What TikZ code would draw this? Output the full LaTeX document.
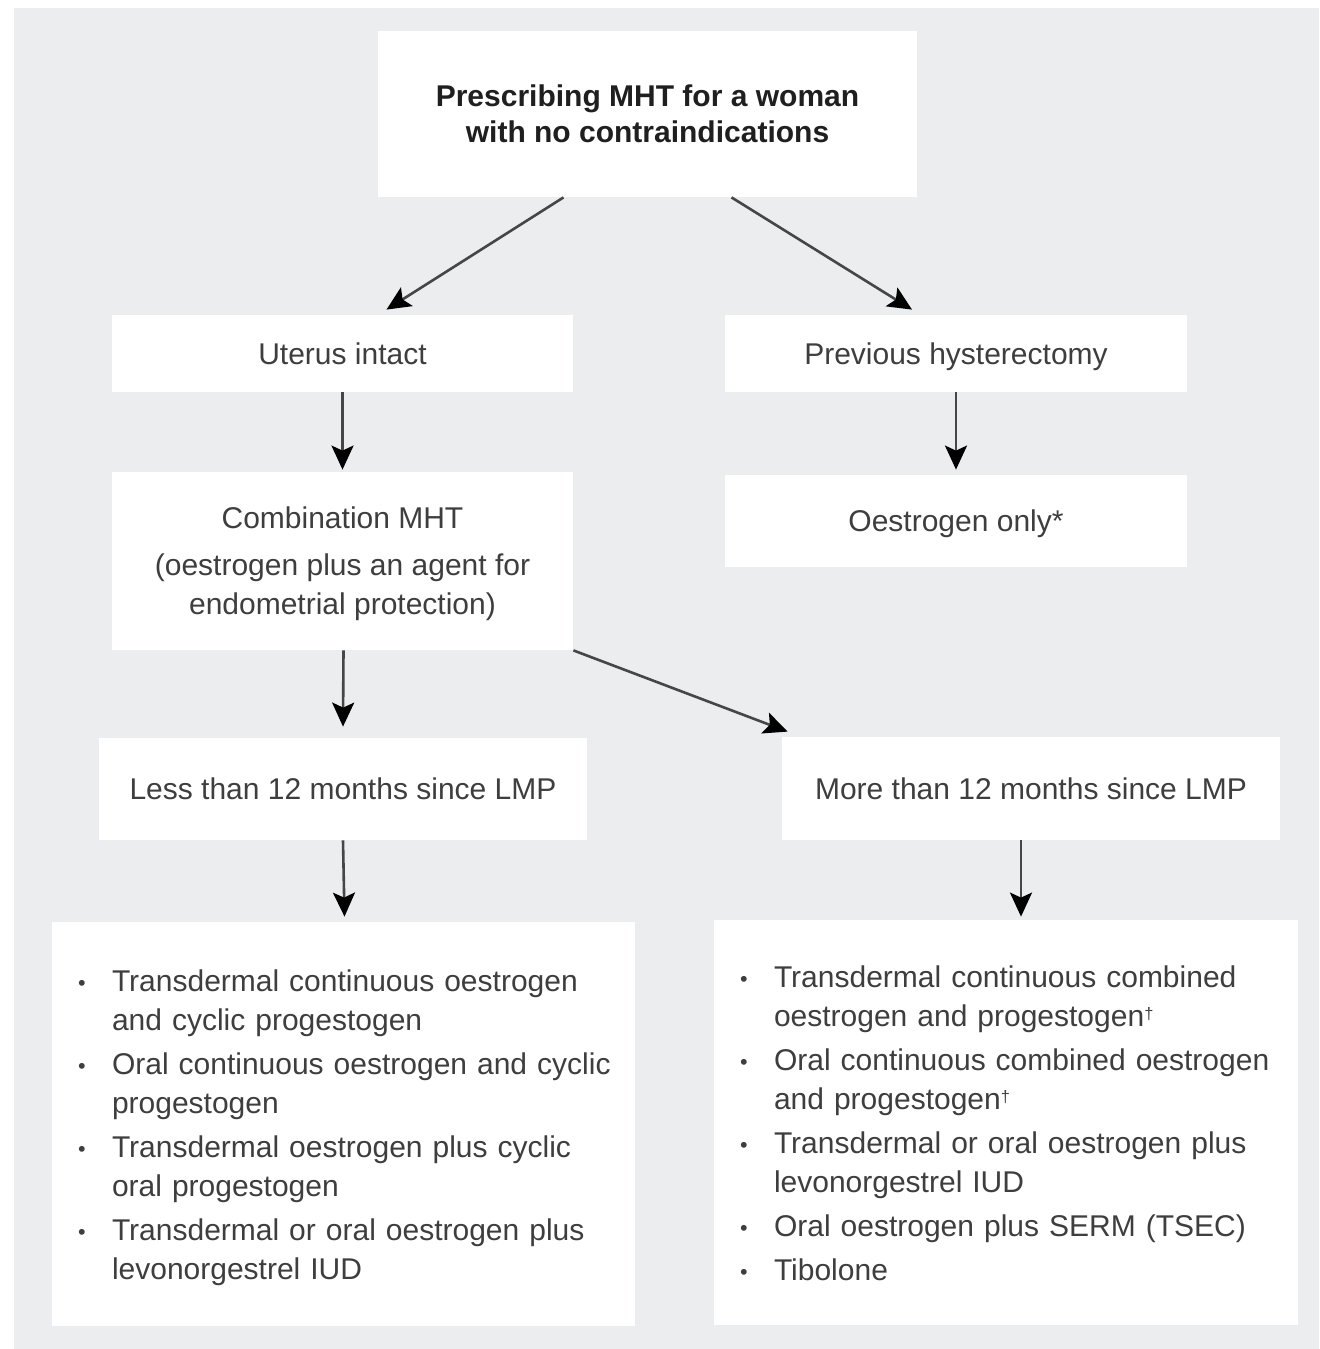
\documentclass[tikz,border=0pt]{standalone}
\usepackage{fontspec}
\setmainfont{Liberation Sans}
\usepackage{xcolor}
\usepackage{graphicx}
\usetikzlibrary{arrows.meta}
\definecolor{panelgray}{RGB}{236,237,239}
\definecolor{boxtext}{RGB}{62,62,62}
\definecolor{arrgray}{RGB}{70,70,70}
\newcommand\bul{\makebox[19pt][l]{\makebox[8pt]{\raisebox{.6pt}{\scalebox{.72}{\textbullet}}}}}
\newcommand\ind{\hspace*{19pt}}
\newcommand\dg{\raisebox{3.5pt}{\scalebox{.55}{\textdagger}}}
\tikzstyle{box}=[fill=white,inner sep=0pt,align=center,text=boxtext,font=\fontsize{15}{19.5}\selectfont]
\tikzstyle{lbl}=[box,text depth=0pt]
\tikzstyle{lst}=[box,align=left,inner xsep=11pt]
\tikzstyle{arr}=[line width=1.3pt,draw=arrgray,-{Stealth[length=12pt,width=11pt,inset=2.5pt,color=black]}]

\begin{document}
\begin{tikzpicture}[x=0.5pt,y=-0.5pt]
	\useasboundingbox (0,0) rectangle (1319,1349);
	\fill[white] (0,0) rectangle (1319,1349);
	\fill[panelgray] (14,8) rectangle (1319,1349);
	\node[lbl,minimum width=269.5pt,minimum height=83pt,text=black!88,font=\bfseries\fontsize{15}{18}\selectfont] (top) at (647.5,114)
	  {Prescribing MHT for a woman\\with no contraindications};
	\node[lbl,minimum width=230.5pt,minimum height=38.5pt] (uterus) at (342.5,353.5) {Uterus intact};
	\node[lbl,minimum width=231pt,minimum height=38.5pt] (hyst) at (956,353.5) {Previous hysterectomy};
	\node[lbl,minimum width=230.5pt,minimum height=89pt] (comb) at (342.5,561)
	  {Combination MHT\\[4pt](oestrogen plus an agent for\\endometrial protection)};
	\node[lbl,minimum width=231pt,minimum height=46pt] (oest) at (956,521) {Oestrogen only*};
	\node[lbl,minimum width=244pt,minimum height=51pt] (less) at (343,789) {Less than 12 months since LMP};
	\node[lbl,minimum width=249pt,minimum height=51.5pt] (more) at (1031,788.5) {More than 12 months since LMP};
	\node[lst,text width=269.5pt,minimum height=202pt] (llist) at (343.5,1124) {%
	  \begin{tabular}{@{}l@{}}
	  \bul Transdermal continuous oestrogen\\ \ind and cyclic progestogen\\[2.5pt]
	  \bul Oral continuous oestrogen and cyclic\\ \ind progestogen\\[2.5pt]
	  \bul Transdermal oestrogen plus cyclic\\ \ind oral progestogen\\[2.5pt]
	  \bul Transdermal or oral oestrogen plus\\ \ind levonorgestrel IUD\\[-4pt]
	  \end{tabular}};
	\node[lst,text width=270pt,minimum height=202.5pt] (rlist) at (1006,1122.5) {%
	  \begin{tabular}{@{}l@{}}
	  \bul Transdermal continuous combined\\ \ind oestrogen and progestogen\dg\\[2.5pt]
	  \bul Oral continuous combined oestrogen\\ \ind and progestogen\dg\\[2.5pt]
	  \bul Transdermal or oral oestrogen plus\\ \ind levonorgestrel IUD\\[2.5pt]
	  \bul Oral oestrogen plus SERM (TSEC)\\[2.5pt]
	  \bul Tibolone\\[-4pt]
	  \end{tabular}};
	\draw[arr] ([xshift=-42pt]top.south) -- ([xshift=22pt,yshift=2.5pt]uterus.north);
	\draw[arr] ([xshift=42pt]top.south) -- ([xshift=-22pt,yshift=2.5pt]hyst.north);
	\draw[arr] (uterus.south) -- ([yshift=1pt]comb.north);
	\draw[arr] (hyst.south) -- ([yshift=2.5pt]oest.north);
	\draw[arr] ([xshift=.5pt]comb.south) -- ([yshift=5.5pt]less.north);
	\draw[arr] (comb.south east) -- ([xshift=3pt,yshift=2.5pt]more.north west);
	\draw[arr] (less.south) -- ([xshift=.5pt,yshift=2.5pt]llist.north);
	\draw[arr] ([xshift=-5pt]more.south) -- ([xshift=7.5pt,yshift=1.5pt]rlist.north);
\end{tikzpicture}
\end{document}
